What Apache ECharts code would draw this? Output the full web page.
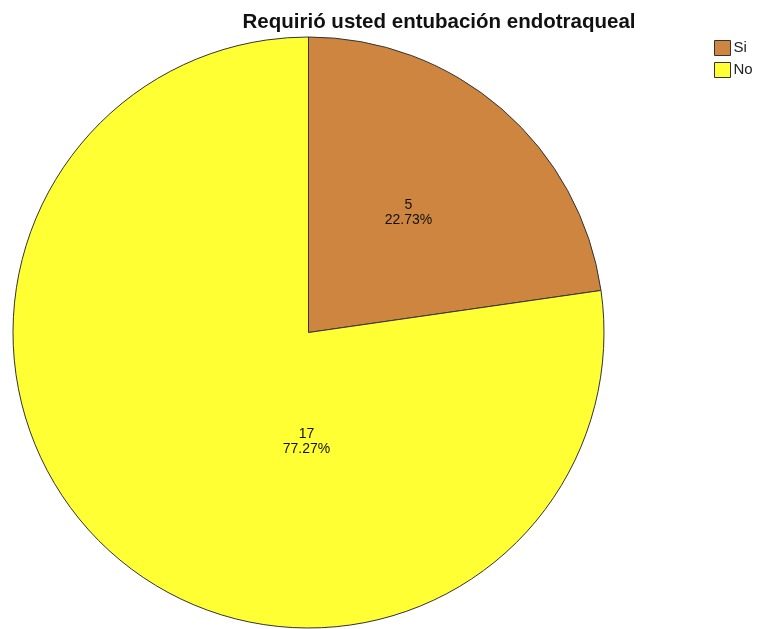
<!DOCTYPE html>
<html>
<head>
<meta charset="utf-8">
<script src="https://cdn.jsdelivr.net/npm/echarts@6/dist/echarts.min.js"></script>
<style>
html,body{margin:0;padding:0;background:#fff;}
#chart{width:757px;height:629px;}
</style>
</head>
<body>
<div id="chart"></div>
<script>
const titleText = 'Requirió usted entubación endotraqueal';
const categories = ['Si', 'No'];
const counts = [5, 17];
const percents = ['22.73%', '77.27%'];
const colors = ['#CD853F', '#FFFF33'];

const chart = echarts.init(document.getElementById('chart'), null, {renderer: 'canvas'});
const CX = 308.5, CY = 332.5, R = 295.5;

chart.setOption({
  backgroundColor: '#ffffff',
  animation: false,
  title: {
    text: titleText,
    left: 434, top: 7, textAlign: 'center',
    textStyle: {fontFamily: 'Liberation Sans, Arial, sans-serif', fontWeight: 'bold', fontSize: 20.5, color: '#111'}
  },
  legend: {
    orient: 'vertical', left: 709, top: 35,
    itemWidth: 16, itemHeight: 15, itemGap: 6,
    icon: 'rect',
    data: categories,
    itemStyle: {borderColor: '#333', borderWidth: 1},
    textStyle: {fontFamily: 'Liberation Sans, Arial, sans-serif', fontSize: 15, color: '#222', padding: [0,0,0,-2]}
  },
  series: [{
    type: 'pie',
    center: [CX, CY],
    radius: [0, R],
    startAngle: 90,
    clockwise: true,
    silent: true,
    itemStyle: {borderColor: '#333', borderWidth: 1},
    label: {
      show: true, position: 'inside',
      fontFamily: 'Liberation Sans, Arial, sans-serif', fontSize: 14, color: '#111',
      lineHeight: 15, align: 'center',
      formatter: p => p.value + '\n' + percents[p.dataIndex]
    },
    labelLayout: function (params) {
      if (params.dataIndex === 1) {
        return {x: CX - 2, y: CY + 0.37 * R, align: 'center', verticalAlign: 'middle'};
      }
      return {x: CX + 100, y: CY - 120, align: 'center', verticalAlign: 'middle'};
    },
    data: categories.map((c, i) => ({name: c, value: counts[i], itemStyle: {color: colors[i]}}))
  }]
});
</script>
</body>
</html>
